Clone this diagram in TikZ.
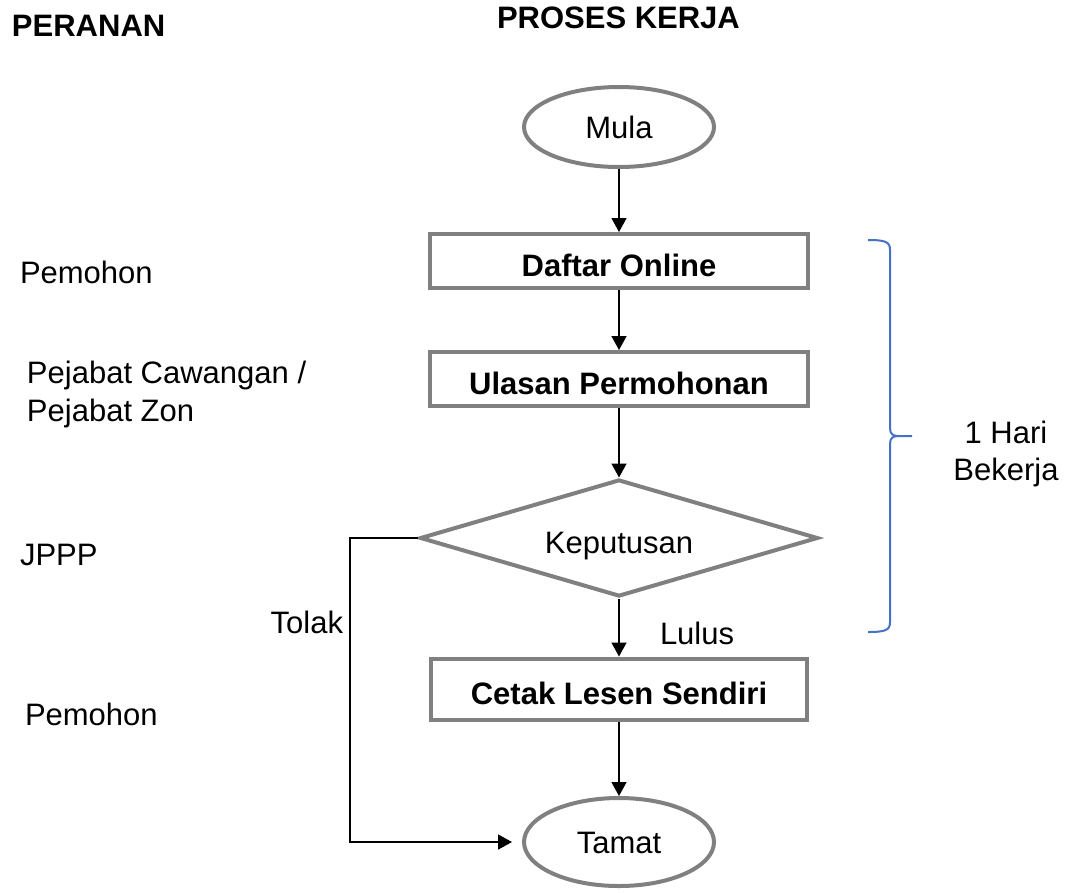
\documentclass[tikz,border=0pt]{standalone}
\usepackage{fontspec}
\setmainfont{Liberation Sans}
\usetikzlibrary{shapes.geometric,arrows.meta}
\definecolor{boxgray}{RGB}{128,128,128}
\definecolor{braceblue}{RGB}{68,114,196}
\tikzset{
  txt/.style={font=\fontsize{31}{38}\selectfont, inner sep=0pt, outer sep=0pt},
  boldtxt/.style={txt, font=\fontsize{31}{38}\selectfont\bfseries},
  procbox/.style={draw=boxgray, line width=4pt, rectangle, inner sep=0pt,
    font=\fontsize{31}{38}\selectfont\bfseries, text height=30pt, text depth=0pt},
  termshape/.style={draw=boxgray, line width=4pt, ellipse, inner sep=0pt,
    font=\fontsize{31}{38}\selectfont, text height=22pt, text depth=0pt},
  decshape/.style={draw=boxgray, line width=4pt, diamond, aspect=3.4, inner sep=0pt,
    font=\fontsize{31}{38}\selectfont, text height=30pt, text depth=0pt},
  arr/.style={draw=black, line width=1.5pt, -{Triangle[length=14pt,width=15pt]}},
  plainline/.style={draw=black, line width=1.5pt},
  bracepath/.style={draw=braceblue, line width=2pt}
}
\begin{document}
\begin{tikzpicture}[x=1pt,y=-1pt]
\useasboundingbox[fill=white] (0,0) rectangle (1067,892);

% titles
\node[boldtxt, anchor=base west] (peranan) at (12,36) {PERANAN};
\node[boldtxt, anchor=base west] (proses) at (497,28) {PROSES KERJA};

% role labels
\node[txt, anchor=base west] (role1) at (20,283) {Pemohon};
\node[txt, anchor=base west] (role2a) at (27,383) {Pejabat Cawangan /};
\node[txt, anchor=base west] (role2b) at (27,421) {Pejabat Zon};
\node[txt, anchor=base west] (role3) at (20,565) {JPPP};
\node[txt, anchor=base west] (role4) at (25,725) {Pemohon};

% flow shapes
\node[termshape, minimum width=190pt, minimum height=80pt] (mula) at (619,127) {Mula};
\node[procbox, minimum width=378pt, minimum height=54pt] (daftar) at (619,261) {Daftar Online};
\node[procbox, minimum width=378pt, minimum height=54pt] (ulasan) at (619,379) {Ulasan Permohonan};
\node[decshape, minimum width=398pt, minimum height=117pt] (dec) at (619,538) {Keputusan};
\node[procbox, minimum width=376pt, minimum height=61pt] (cetak) at (619,689) {Cetak Lesen Sendiri};
\node[termshape, minimum width=190pt, minimum height=88pt] (tamat) at (619,842) {Tamat};

% connectors
\draw[arr] (mula) -- (daftar);
\draw[arr] (daftar) -- (ulasan);
\draw[arr] (ulasan) -- (dec);
\draw[arr] (dec) -- (cetak);
\draw[arr] (cetak) -- (tamat);
\coordinate (tk) at (350,538);
\draw[arr, shorten >=10pt] (dec.west) -- (tk) |- (tamat.west);

% connector labels
\node[txt, anchor=base east] (tolak) at (343,633) {Tolak};
\node[txt, anchor=base west] (lulus) at (660,644) {Lulus};

% brace
\draw[bracepath] (868,240) .. controls (886,240) and (890,242) .. (890,250) -- (890,428)
  .. controls (890,434) and (893,436) .. (898,436) -- (912,436);
\draw[bracepath] (898,436) .. controls (893,436) and (890,438) .. (890,444) -- (890,622)
  .. controls (890,630) and (886,632) .. (868,632);
\node[txt, anchor=base] (hari) at (1006,443) {1 Hari};
\node[txt, anchor=base] (bekerja) at (1006,480) {Bekerja};
\end{tikzpicture}
\end{document}
